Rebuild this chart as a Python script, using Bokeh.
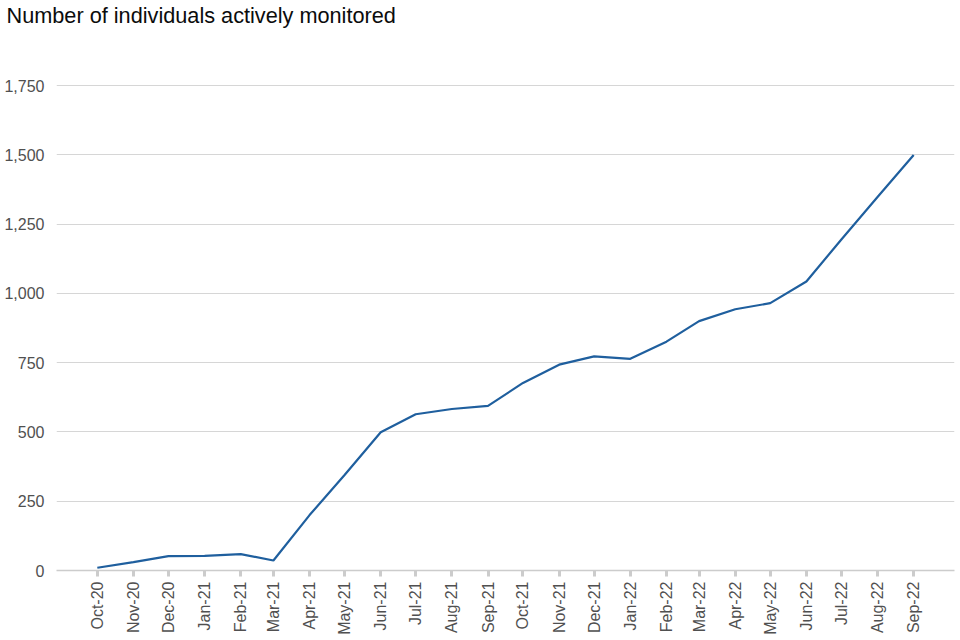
import math
import pandas as pd
from bokeh.plotting import figure
from bokeh.models import Range1d, FixedTicker, DatetimeTickFormatter, NumeralTickFormatter
from bokeh.embed import file_html
from bokeh.resources import INLINE

months = ["Oct-20", "Nov-20", "Dec-20", "Jan-21", "Feb-21", "Mar-21", "Apr-21", "May-21",
          "Jun-21", "Jul-21", "Aug-21", "Sep-21", "Oct-21", "Nov-21", "Dec-21", "Jan-22",
          "Feb-22", "Mar-22", "Apr-22", "May-22", "Jun-22", "Jul-22", "Aug-22", "Sep-22"]
monitored = [10, 30, 52, 53, 59, 36, 200, 345, 499, 564, 583, 594,
             677, 743, 773, 764, 826, 900, 943, 965, 1043, 1195, 1348, 1500]
y_ticks = [0, 250, 500, 750, 1000, 1250, 1500, 1750]
title_text = "Number of individuals actively monitored"

dates = pd.to_datetime(months, format="%b-%y")

p = figure(width=960, height=640, x_axis_type="datetime", output_backend="svg",
           toolbar_location=None, title=title_text,
           x_range=Range1d(dates[0] - pd.Timedelta(days=35), dates[-1] + pd.Timedelta(days=35)),
           y_range=Range1d(0, 1960))
p.outline_line_color = None
p.min_border_left = 56
p.min_border_right = 6
p.min_border_top = 0
p.min_border_bottom = 70
p.title.text_font = "Liberation Sans"
p.title.text_font_size = "21.7px"
p.title.text_font_style = "normal"
p.title.text_color = "#0b0c0c"
p.title.offset = -50
p.title.standoff = 0

p.line(dates, monitored, line_color="#1f5f9e", line_width=2.2)

xa = p.xaxis[0]
xa.ticker = FixedTicker(ticks=[d.timestamp() * 1000 for d in dates])
fmt = "%b-%y"
xa.formatter = DatetimeTickFormatter(microseconds=fmt, milliseconds=fmt, seconds=fmt,
                                     minsec=fmt, minutes=fmt, hourmin=fmt, hours=fmt,
                                     days=fmt, months=fmt, years=fmt)
xa.major_label_orientation = math.pi / 2
xa.major_label_text_font = "Liberation Sans"
xa.major_label_text_font_size = "16px"
xa.major_label_text_color = "#505050"
xa.major_label_standoff = 5
xa.axis_label_standoff = 0
xa.major_tick_line_color = "#cccccc"
xa.major_tick_line_width = 3
xa.major_tick_out = 6
xa.major_tick_in = 0
xa.minor_tick_line_color = None
xa.axis_line_color = "#cccccc"
xa.axis_line_width = 1.5

ya = p.yaxis[0]
ya.ticker = FixedTicker(ticks=y_ticks)
ya.formatter = NumeralTickFormatter(format="0,0")
ya.major_label_text_font = "Liberation Sans"
ya.major_label_text_font_size = "16px"
ya.major_label_text_color = "#505050"
ya.major_label_standoff = 6
ya.axis_line_color = None
ya.major_tick_line_color = None
ya.minor_tick_line_color = None

p.xgrid.grid_line_color = None
p.ygrid.grid_line_color = "#d6d6d6"
p.ygrid.grid_line_width = 1

open("out.html", "w").write(file_html(p, INLINE))
